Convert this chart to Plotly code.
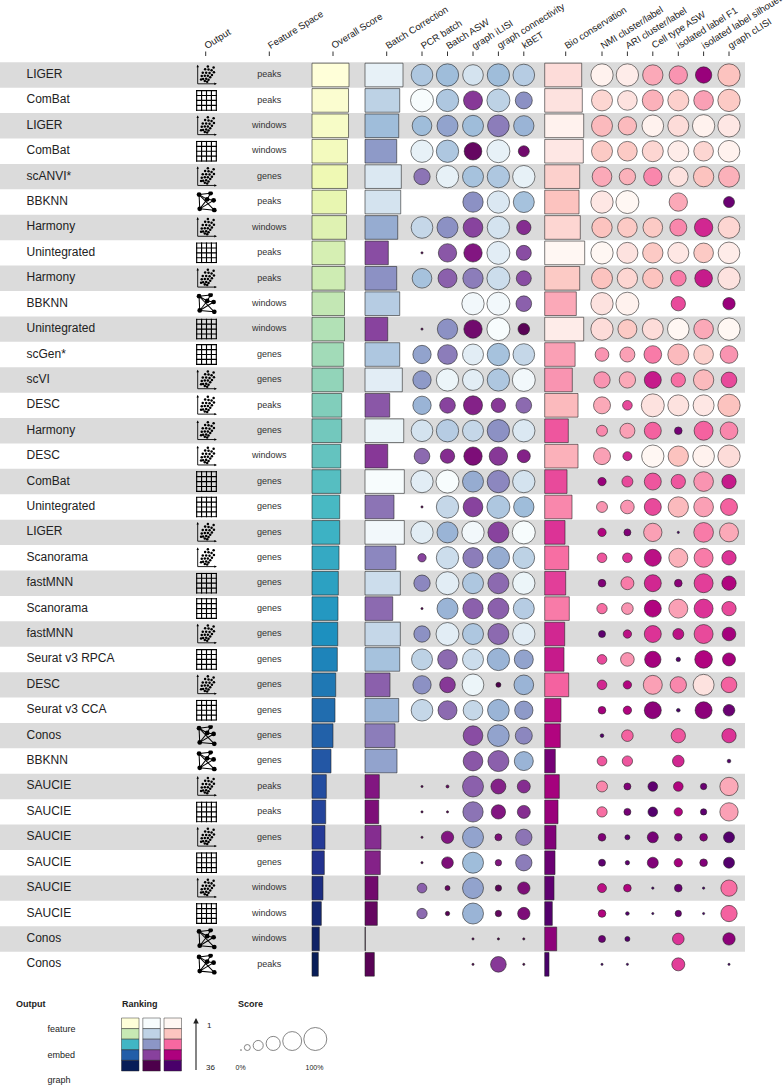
import base64
import plotly.graph_objects as go
import plotly.express as px

N = None
# ---------------- data ----------------
methods = ["LIGER","ComBat","LIGER","ComBat","scANVI*","BBKNN","Harmony","Unintegrated","Harmony","BBKNN","Unintegrated","scGen*","scVI","DESC","Harmony","DESC","ComBat","Unintegrated","LIGER","Scanorama","fastMNN","Scanorama","fastMNN","Seurat v3 RPCA","DESC","Seurat v3 CCA","Conos","BBKNN","SAUCIE","SAUCIE","SAUCIE","SAUCIE","SAUCIE","SAUCIE","Conos","Conos"]
outputs = ["embed","feature","embed","feature","embed","graph","embed","feature","embed","graph","feature","feature","embed","embed","embed","embed","feature","feature","embed","embed","feature","feature","embed","feature","embed","feature","graph","graph","embed","feature","embed","feature","embed","feature","graph","graph"]
features = ["peaks","peaks","windows","windows","genes","peaks","windows","peaks","peaks","windows","windows","genes","genes","peaks","genes","windows","genes","genes","genes","genes","genes","genes","genes","genes","genes","genes","genes","genes","peaks","peaks","genes","genes","windows","windows","windows","peaks"]

overall_score = [.925,.913,.913,.888,.888,.863,.863,.825,.825,.813,.813,.793,.783,.743,.743,.718,.718,.693,.693,.675,.658,.65,.643,.633,.593,.575,.525,.475,.358,.343,.325,.308,.275,.233,.183,.158]
batch_score = [.95,.868,.843,.793,.908,.893,.818,.583,.793,.868,.568,.868,.933,.618,.968,.568,.983,.725,.983,.775,.883,.693,.883,.868,.625,.843,.75,.8,.358,.343,.4,.383,.325,.308,.008,.233]
bio_score = [.925,.94,.975,.965,.875,.858,.89,1.0,.875,.79,.975,.76,.69,.833,.59,.833,.558,.683,.508,.6,.525,.615,.5,.483,.6,.408,.39,.265,.365,.333,.283,.258,.233,.19,.3,.108]

pcr_batch = [68,72,62,70,52,N,68,8,62,N,6,58,58,58,68,50,70,6,70,28,52,6,52,66,58,68,N,N,8,8,8,8,32,34,N,N]
batch_asw = [70,70,66,70,70,N,66,58,60,N,64,62,70,50,70,46,72,70,66,70,72,66,72,62,50,60,N,N,12,8,40,38,18,16,N,N]
graph_ilisi = [65,60,66,56,66,64,62,58,64,70,58,66,66,60,66,58,66,62,70,64,66,64,66,66,68,62,62,62,66,64,66,66,66,66,8,8]
graph_conn = [70,72,68,72,70,70,70,72,72,72,72,70,70,46,70,58,70,72,66,70,66,66,66,70,18,68,68,66,48,46,24,22,22,22,8,50]
kbet = [68,54,64,36,70,66,46,48,48,50,38,68,72,50,70,42,70,64,72,68,70,66,70,60,62,58,54,60,42,42,52,52,40,40,8,8]
nmi = [70,66,66,66,62,70,64,70,66,70,70,44,52,54,36,54,28,36,28,32,26,34,24,32,32,26,14,32,36,34,26,24,30,26,24,8]
ari = [70,62,58,62,52,72,62,66,64,72,60,48,52,32,48,30,36,44,24,32,42,38,28,44,28,28,38,34,24,24,18,16,26,14,18,8]
celltype_asw = [64,66,68,66,58,N,62,64,64,N,66,56,54,72,54,70,54,54,58,54,54,54,54,52,60,54,N,N,32,32,36,36,10,8,N,N]
isolated_f1 = [58,66,66,66,62,58,54,66,50,46,68,66,46,66,26,64,46,64,8,60,26,60,36,16,52,14,46,38,32,28,26,28,26,22,38,42]
isolated_sil = [52,62,70,62,64,N,58,62,56,N,62,62,64,66,60,68,62,62,62,60,60,60,60,56,66,54,N,N,22,22,26,26,10,8,N,N]
graph_clisi = [70,70,70,68,66,36,68,68,70,40,70,56,50,70,56,70,46,54,60,46,46,46,44,42,50,38,46,14,58,58,36,36,52,52,40,8]

pcr_rank = [12,1,14,4,22,N,9,35,13,N,35,17,18,15,7,23,5,35,5,27,20,35,19,10,19,9,N,N,35,35,35,35,24,23,N,N]
batch_asw_rank = [14,12,17,12,4,N,19,25,24,N,19,21,3,27,11,29,1,9,15,8,5,15,5,23,28,23,N,N,34,35,31,32,34,35,N,N]
ilisi_rank = [7,28,14,34,13,19,27,31,21,2,33,5,5,30,9,32,16,27,2,21,12,24,12,8,3,9,26,25,24,22,17,14,17,15,35,35]
conn_rank = [14,10,21,4,12,6,7,5,8,2,1,13,12,28,19,28,20,12,27,16,23,24,23,15,36,15,17,24,30,31,32,31,35,34,36,28]
kbet_rank = [11,19,15,33,4,13,29,26,26,24,35,9,2,23,6,30,7,14,1,10,3,11,5,17,15,18,20,15,29,29,22,21,32,32,36,36]
nmi_rank = [2,7,11,9,13,4,10,1,10,5,6,15,15,13,16,14,29,15,27,20,31,18,34,21,24,28,35,20,16,18,31,34,26,27,33,36]
ari_rank = [3,5,11,9,12,1,9,5,7,2,9,14,13,21,14,24,21,15,31,23,17,15,26,15,27,27,19,20,31,32,34,34,27,35,35,36]
celltype_rank = [13,12,2,7,16,N,9,9,10,N,6,17,25,5,19,1,20,21,14,26,24,27,23,28,14,30,N,N,34,35,32,31,36,36,N,N]
f1_rank = [15,8,6,3,5,13,16,4,17,21,1,11,18,5,32,10,20,11,36,12,30,14,26,35,16,36,20,24,27,27,31,28,33,33,23,22]
sil_rank = [29,14,2,7,10,N,24,9,25,N,13,8,11,4,19,2,15,14,17,17,22,23,21,27,5,30,N,N,33,34,31,31,36,36,N,N]
clisi_rank = [10,9,4,2,12,33,7,3,5,29,1,15,21,10,16,6,25,19,13,23,27,21,28,28,19,33,23,35,13,14,35,35,18,19,30,36]

bar_headers = ["Overall Score", "Batch Correction", "Bio conservation"]
batch_metrics = ["PCR batch", "Batch ASW", "graph iLISI", "graph connectivity", "kBET"]
bio_metrics = ["NMI cluster/label", "ARI cluster/label", "Cell type ASW", "isolated label F1", "isolated label silhouette", "graph cLISI"]
legend_outputs = ["feature", "embed", "graph"]
legend_ranks = [1, 9.75, 18.5, 27.25, 36]
legend_scores = [8, 29, 46, 63, 83, 100]
legend_score_labels = ["0%", "100%"]

# ---------------- layout helpers ----------------
W, H = 783, 1086
Y0, DY = 75.0, 25.41
rows = list(range(len(methods)))
YR = [(H - Y0) / DY, (0 - Y0) / DY]
def py(p):  # pixel height -> row units on the y axis
    return (p - Y0) / DY

YLGNBU = px.colors.sequential.YlGnBu
BUPU = px.colors.sequential.BuPu
RDPU = px.colors.sequential.RdPu
EDGE = "rgba(35,35,35,0.58)"
FONT = "Liberation Sans"
FULL_D = 24.0      # px diameter of a 100% circle
BAR_LEN = 40.0     # px length of a score of 1

def rank_of(vals):
    order = sorted(range(len(vals)), key=lambda i: -vals[i])
    r = [0] * len(vals)
    for k, i in enumerate(order):
        r[i] = k + 1
    return r

fig = go.Figure()

# alternating row bands
shapes = []
for i in rows:
    if i % 2 == 0:
        shapes.append(dict(type="rect", xref="x", yref="y", x0=0, x1=745, y0=i - .5, y1=i + .5,
                           fillcolor="#dbdbdb", line_width=0, layer="below"))

# bars
for vals, left, scale, rk in [
    (overall_score, 312, YLGNBU, [i + 1 for i in rows]),
    (batch_score, 365, BUPU, rank_of(batch_score)),
    (bio_score, 544.7, RDPU, rank_of(bio_score)),
]:
    fig.add_trace(go.Bar(orientation="h", y=rows, x=[v * BAR_LEN for v in vals], base=left, width=0.93,
                         marker=dict(color=rk, colorscale=scale, cmin=1, cmax=36, line=dict(color=EDGE, width=1))))

# circles
def circles(vals, ranks, cx, scale):
    ys = [i for i in rows if vals[i] is not None]
    fig.add_trace(go.Scatter(
        x=[cx] * len(ys), y=ys, mode="markers",
        marker=dict(size=[max(vals[i] / 72 * FULL_D - 1, 2.2) for i in ys],
                    color=[ranks[i] for i in ys], colorscale=scale, cmin=1, cmax=36,
                    line=dict(color=EDGE, width=1), opacity=1)))

batch_x = [422, 447.5, 473, 498.4, 523.8]
bio_x = [602, 627.4, 652.8, 678.3, 703.6, 729]
for v, r, cx in zip([pcr_batch, batch_asw, graph_ilisi, graph_conn, kbet],
                    [pcr_rank, batch_asw_rank, ilisi_rank, conn_rank, kbet_rank], batch_x):
    circles(v, r, cx, BUPU)
for v, r, cx in zip([nmi, ari, celltype_asw, isolated_f1, isolated_sil, graph_clisi],
                    [nmi_rank, ari_rank, celltype_rank, f1_rank, sil_rank, clisi_rank], bio_x):
    circles(v, r, cx, RDPU)

# row texts
fig.add_trace(go.Scatter(x=[26.5] * len(rows), y=rows, mode="text", text=methods, textposition="middle right",
                         textfont=dict(family=FONT, size=12, color="#222222")))
fig.add_trace(go.Scatter(x=[269.3] * len(rows), y=rows, mode="text", text=features, textposition="middle center",
                         textfont=dict(family=FONT, size=9, color="#333333")))

# icons
def uri(svg):
    return "data:image/svg+xml;base64," + base64.b64encode(svg.encode()).decode()

grid = '<svg xmlns="http://www.w3.org/2000/svg" viewBox="0 0 62 62"><g fill="none" stroke="#000" stroke-width="3.4">'
for k in range(5):
    p = 2 + k * 14.5
    grid += f'<path d="M{p} 0V62M0 {p}H62"/>'
grid += "</g></svg>"

dots = [(35,6),(27,14),(37,15),(46,17),(52,9),(53,23),(20,24),(30,24),(40,25),(47,31),(17,34),(26,33),(35,33),(42,38),(21,43),(30,42),(37,45),(26,49),(33,51),(15,44)]
embed = '<svg xmlns="http://www.w3.org/2000/svg" viewBox="0 0 62 62"><g stroke="#000" stroke-width="2.6" fill="none"><path d="M5 4V57H58"/></g><path d="M5 0L1.5 8H8.5ZM62 57L54 53.5V60.5Z"/>'
for x, y in dots:
    embed += f'<circle cx="{x}" cy="{y}" r="3.7"/>'
embed += "</svg>"

nodes = {"a": (9,9), "b": (43,5), "c": (52,26), "d": (33,23), "e": (11,51), "f": (54,55)}
edges = ["ab","ad","ae","af","bd","dc","de","ef","ec"]
graph = '<svg xmlns="http://www.w3.org/2000/svg" viewBox="0 0 62 62"><g stroke="#000" stroke-width="3">'
for ed in edges:
    p, q = nodes[ed[0]], nodes[ed[1]]
    graph += f'<line x1="{p[0]}" y1="{p[1]}" x2="{q[0]}" y2="{q[1]}"/>'
graph += "</g>"
for x, y in nodes.values():
    graph += f'<circle cx="{x}" cy="{y}" r="7"/>'
graph += "</svg>"

icons = {"feature": uri(grid), "embed": uri(embed), "graph": uri(graph)}
images = [dict(source=icons[outputs[i]], xref="x", yref="y", x=206.5, y=i, sizex=21, sizey=21 / DY,
               xanchor="center", yanchor="middle", sizing="stretch", layer="above") for i in rows]

# headers
header_items = [("Output", 205.7), ("Feature Space", 269.3), (bar_headers[0], 333), (bar_headers[1], 386.7)]
header_items += list(zip(batch_metrics, batch_x)) + [(bar_headers[2], 565.7)] + list(zip(bio_metrics, bio_x))
annotations = []
for text, x in header_items:
    annotations.append(dict(x=x - 3.5, y=py(51), xref="x", yref="y", text=text, showarrow=False, textangle=-32,
                            xanchor="left", yanchor="bottom", borderpad=0, borderwidth=0,
                            font=dict(family=FONT, size=9.6, color="#222222")))
    shapes.append(dict(type="line", xref="x", yref="y", x0=x, x1=x, y0=py(51.5), y1=py(56),
                       line=dict(color="#333333", width=1)))

# legend titles and labels
def label(x, yp, text, size=9, bold=False, pos="middle right"):
    fig.add_trace(go.Scatter(x=[x], y=[py(yp)], mode="text", text=[f"<b>{text}</b>" if bold else text],
                             textposition=pos, textfont=dict(family=FONT, size=size, color="#222222")))
label(16, 1004.5, "Output", bold=True)
label(122, 1004.5, "Ranking", bold=True)
label(238, 1004.5, "Score", bold=True)
for t, yp in zip(legend_outputs, [1030, 1055.5, 1081]):
    label(47.5, yp, t)
label(207, 1025.5, str(legend_ranks[0]), size=8)
label(206, 1068, str(legend_ranks[-1]), size=8)
label(235.5, 1068, legend_score_labels[0], size=7)
label(305.5, 1068, legend_score_labels[1], size=7)

# ranking swatches
for left, scale in [(121.5, YLGNBU), (142.8, BUPU), (164, RDPU)]:
    fig.add_trace(go.Bar(orientation="h", y=[py(1023.3 + 10.6 * k) for k in range(5)], x=[17.5] * 5, base=left,
                         width=10.6 / DY,
                         marker=dict(color=legend_ranks, colorscale=scale, cmin=1, cmax=36,
                                     line=dict(color=EDGE, width=0.8))))

# score circles
sc_x = [241, 247.3, 258.2, 273.2, 292.2, 315.3]
sc_d = [s / 100 * FULL_D for s in legend_scores]
sc_y = [py(1051 - d / 2) for d in sc_d]
fig.add_trace(go.Scatter(x=sc_x, y=sc_y, mode="markers",
                         marker=dict(size=[d - 1 for d in sc_d], color="white",
                                     line=dict(color="rgba(40,40,40,.8)", width=1))))

annotations.append(dict(x=196, y=py(1018), ax=196, ay=py(1071.5), xref="x", yref="y", axref="x", ayref="y",
                        text="", showarrow=True, arrowhead=2, arrowsize=1, arrowwidth=1.1, arrowcolor="#222222"))

fig.update_layout(
    width=W, height=H, margin=dict(l=0, r=0, t=0, b=0), autosize=False,
    paper_bgcolor="white", plot_bgcolor="white", showlegend=False, barmode="overlay", hovermode=False,
    xaxis=dict(range=[0, W], visible=False, fixedrange=True),
    yaxis=dict(range=YR, visible=False, fixedrange=True),
    shapes=shapes, annotations=annotations, images=images,
)
fig.write_html("out.html", config=dict(displayModeBar=False),
               post_script="document.body.style.margin='0';document.body.style.overflow='hidden';")
